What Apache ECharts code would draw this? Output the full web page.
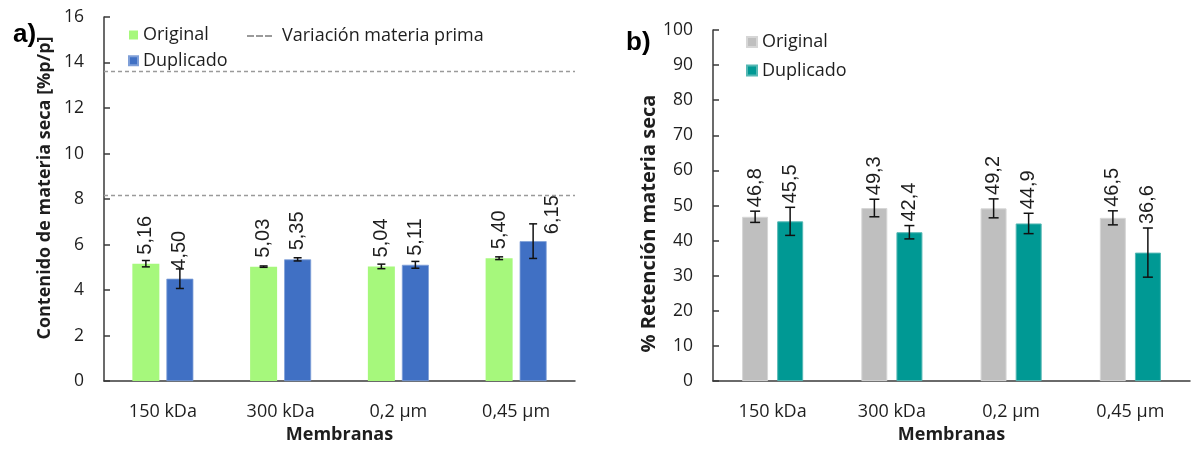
<!DOCTYPE html>
<html>
<head>
<meta charset="utf-8">
<script src="https://cdn.jsdelivr.net/npm/echarts@6/dist/echarts.min.js"></script>
<style>html,body{margin:0;padding:0;background:#fff;overflow:hidden}#c{width:1192px;height:449px}</style>
</head>
<body>
<div id="c"></div>
<script>
// ---- data ----
const categories = ['150 kDa', '300 kDa', '0,2 µm', '0,45 µm'];
const aOriginal = [5.16, 5.03, 5.04, 5.40];
const aOriginalErr = [0.14, 0.03, 0.10, 0.06];
const aDuplicado = [4.50, 5.35, 5.11, 6.15];
const aDuplicadoErr = [0.43, 0.07, 0.15, 0.76];
const aVariacion = [13.6, 8.15];
const bOriginal = [46.8, 49.3, 49.2, 46.5];
const bOriginalErr = [1.6, 2.5, 2.7, 2.0];
const bDuplicado = [45.5, 42.4, 44.9, 36.6];
const bDuplicadoErr = [4.0, 1.9, 2.9, 7.0];
const aAxis = {min: 0, max: 16, interval: 2};
const bAxis = {min: 0, max: 100, interval: 10};
const aTitleY = 'Contenido de materia seca [%p/p]';
const bTitleY = '% Retención materia seca';
const titleX = 'Membranas';

// ---- styles ----
const UI = '"Open Sans", "Noto Sans", sans-serif';
const NUM = '"Liberation Sans", Arial, sans-serif';
const INK = '#1e1e1e';
const AXIS = '#3a3a3a';
const C = {aOrig: '#a6f87c', aDup: '#4070c4', bOrig: '#bfbfbf', bDup: '#009994', dash: '#9a9a9a'};

const fmt = (v, d) => v.toFixed(d).replace('.', ',');

function xAxisCfg(gi) {
  return {
    type: 'category', gridIndex: gi, data: categories,
    name: titleX, nameLocation: 'middle', nameGap: 43,
    nameTextStyle: {fontFamily: UI, fontWeight: 'bold', fontSize: 18, color: INK, lineHeight: 18},
    axisLine: {lineStyle: {color: AXIS, width: 1.5}},
    axisTick: {inside: true, length: 6, lineStyle: {color: AXIS, width: 1.5}},
    axisLabel: {fontFamily: UI, fontSize: 18, color: INK, margin: 22, lineHeight: 18},
    splitLine: {show: false}
  };
}
function yAxisCfg(gi, ax, name, nameGap, nameSize, namePad) {
  return {
    type: 'value', gridIndex: gi, min: ax.min, max: ax.max, interval: ax.interval,
    name: name, nameLocation: 'middle', nameGap: nameGap, nameRotate: 90,
    nameTextStyle: {fontFamily: UI, fontWeight: 'bold', fontSize: nameSize, color: INK, lineHeight: nameSize, padding: namePad},
    axisLine: {show: true, lineStyle: {color: AXIS, width: 1.5}},
    axisTick: {show: true, inside: true, length: 6, lineStyle: {color: AXIS, width: 1.5}},
    axisLabel: {fontFamily: UI, fontSize: 17.5, color: INK, margin: 20},
    splitLine: {show: false}
  };
}

function errSeries(xi, yi, vals, errs, offset, cap, withLabel, digits) {
  return {
    type: 'custom', xAxisIndex: xi, yAxisIndex: yi, silent: true, z: 10,
    data: vals.map((v, i) => [i, v - errs[i], v + errs[i], v]),
    encode: {x: 0, y: [1, 2]},
    renderItem: function (params, api) {
      const c = api.value(0);
      const lo = api.coord([c, api.value(1)]);
      const hi = api.coord([c, api.value(2)]);
      const x = lo[0] + offset;
      const st = {stroke: '#111', lineWidth: 1.5};
      const ch = [
        {type: 'line', shape: {x1: x, y1: lo[1], x2: x, y2: hi[1]}, style: st},
        {type: 'line', shape: {x1: x - cap / 2, y1: lo[1], x2: x + cap / 2, y2: lo[1]}, style: st},
        {type: 'line', shape: {x1: x - cap / 2, y1: hi[1], x2: x + cap / 2, y2: hi[1]}, style: st}
      ];
      if (withLabel) {
        ch.push({type: 'text', x: x, y: hi[1] - 4, rotation: Math.PI / 2,
          style: {text: fmt(api.value(3), digits), fill: INK, fontFamily: NUM, fontSize: 20,
                  align: 'left', verticalAlign: 'middle'}});
      }
      return {type: 'group', children: ch};
    }
  };
}

const aLabel = {show: true, position: 'top', distance: 9, rotate: 90, align: 'left', verticalAlign: 'middle',
  fontFamily: NUM, fontSize: 20, color: INK, formatter: p => fmt(p.value, 2)};

const aDupData = aDuplicado.map((v, i) => i === 3 ? {value: v, label: {offset: [-2, 19]}} : v);

const dashIcon = 'path://M0,0h7v2h-7z M9,0h7v2h-7z M18,0h7v2h-7z';

const option = {
  animation: false,
  backgroundColor: '#fff',
  title: [
    {text: 'a)', left: 8, top: 17, textStyle: {fontFamily: NUM, fontWeight: 'bold', fontSize: 26, color: '#000'}},
    {text: 'b)', left: 621, top: 25, textStyle: {fontFamily: NUM, fontWeight: 'bold', fontSize: 26, color: '#000'}}
  ],
  legend: [
    {data: ['Original', 'Duplicado'], orient: 'vertical', left: 123, top: 21, icon: 'rect',
     itemWidth: 9, itemHeight: 9, itemGap: 7.7,
     textStyle: {fontFamily: UI, fontSize: 18, color: INK, lineHeight: 18}},
    {data: [{name: 'Variación materia prima', icon: dashIcon}], left: 242, top: 22, itemWidth: 25, itemHeight: 2,
     itemStyle: {color: C.dash},
     textStyle: {fontFamily: UI, fontSize: 18, color: INK, lineHeight: 18, padding: [0, 0, 0, 5]}},
    {data: ['Original ', 'Duplicado '], orient: 'vertical', left: 741, top: 28, icon: 'rect',
     itemWidth: 10, itemHeight: 10, itemGap: 10.5,
     formatter: n => n.trim(),
     textStyle: {fontFamily: UI, fontSize: 18, color: INK, lineHeight: 18}}
  ],
  grid: [
    {left: 104, width: 471, top: 17, height: 370, containLabel: false},
    {left: 713, width: 477, top: 30, height: 358, containLabel: false}
  ],
  xAxis: [xAxisCfg(0), xAxisCfg(1)],
  yAxis: [yAxisCfg(0, aAxis, aTitleY, 50, 18, [0, 0, 0, 22]), yAxisCfg(1, bAxis, bTitleY, 42, 20, [0, 36, 0, 0])],
  series: [
    {name: 'Original', type: 'bar', xAxisIndex: 0, yAxisIndex: 0, data: aOriginal,
     barWidth: 27, barGap: '26%', itemStyle: {color: C.aOrig}, label: aLabel},
    {name: 'Duplicado', type: 'bar', xAxisIndex: 0, yAxisIndex: 0, data: aDupData,
     barWidth: 27, barGap: '26%', itemStyle: {color: C.aDup, borderColor: '#7f9fd8', borderWidth: 0.8}, label: aLabel},
    {name: 'Variación materia prima', type: 'line', xAxisIndex: 0, yAxisIndex: 0, data: [],
     symbol: 'none', lineStyle: {type: [4, 3], color: C.dash, width: 1.3}, itemStyle: {color: C.dash},
     markLine: {silent: true, symbol: 'none', label: {show: false},
       lineStyle: {type: [4, 3], color: C.dash, width: 1.3},
       data: aVariacion.map(v => ({yAxis: v}))}},
    errSeries(0, 0, aOriginal, aOriginalErr, -17, 8, false, 2),
    errSeries(0, 0, aDuplicado, aDuplicadoErr, 17, 8, false, 2),
    {name: 'Original ', type: 'bar', xAxisIndex: 1, yAxisIndex: 1, data: bOriginal,
     barWidth: 26, barGap: '35%', itemStyle: {color: C.bOrig, borderColor: '#d6d6d6', borderWidth: 1}},
    {name: 'Duplicado ', type: 'bar', xAxisIndex: 1, yAxisIndex: 1, data: bDuplicado,
     barWidth: 26, barGap: '35%', itemStyle: {color: C.bDup, borderColor: '#55b8b4', borderWidth: 1}},
    errSeries(1, 1, bOriginal, bOriginalErr, -17.5, 10, true, 1),
    errSeries(1, 1, bDuplicado, bDuplicadoErr, 17.5, 10, true, 1)
  ]
};
echarts.init(document.getElementById('c'), null, {renderer: 'canvas'}).setOption(option);
</script>
</body>
</html>
